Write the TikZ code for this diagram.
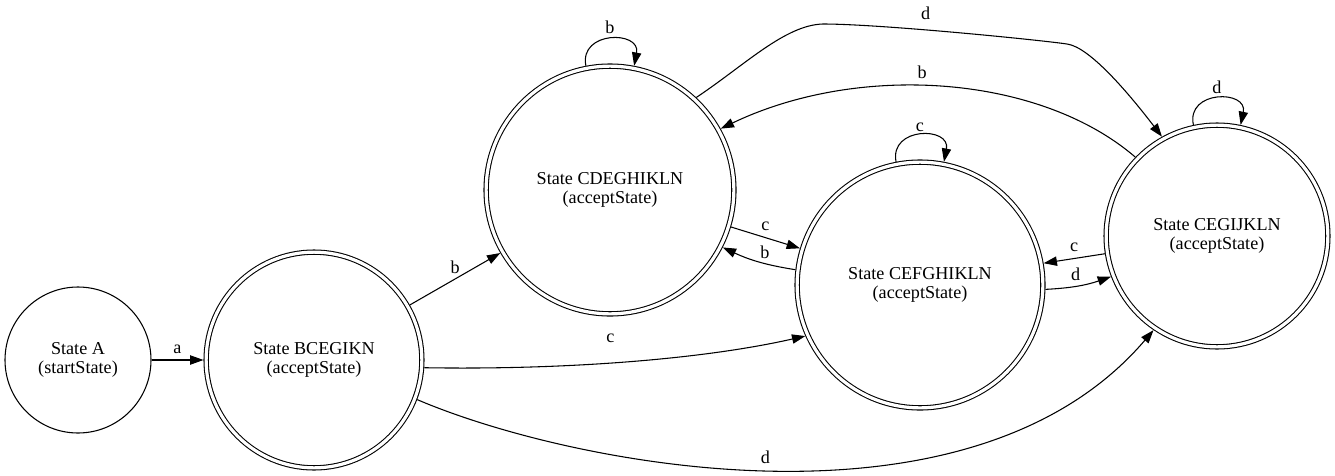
\documentclass[tikz,border=0pt]{standalone}
\usepackage{fontspec}
\setmainfont{Liberation Serif}
\usetikzlibrary{arrows.meta}
\begin{document}
\begin{tikzpicture}[x=0.75pt,y=-0.75pt,line width=0.8pt,
		>={Triangle[length=10pt,width=7pt]},
		every node/.style={font=\fontsize{13.6pt}{14.5pt}\selectfont},
		stnode/.style={draw, circle, align=center, inner sep=0pt},
		accnode/.style={stnode, double, double distance=2.4pt, outer sep=2pt},
		lbl/.style={inner sep=1pt}]
			\useasboundingbox (0,0) rectangle (1335,475);
			\node[stnode, minimum size=109.5pt] (A) at (78,360) {State A\\(startState)};
			\node[accnode, minimum size=161.8pt] (BCEGIKN) at (314,360) {State BCEGIKN\\(acceptState)};
			\node[accnode, minimum size=185.8pt] (CDEGHIKLN) at (610,190) {State CDEGHIKLN\\(acceptState)};
			\node[accnode, minimum size=184.3pt] (CEFGHIKLN) at (920,285) {State CEFGHIKLN\\(acceptState)};
			\node[accnode, minimum size=166.3pt] (CEGIJKLN) at (1217,236) {State CEGIJKLN\\(acceptState)};
			\draw[->] (A) -- node[lbl, above=3.5pt] {a} (BCEGIKN);
			\draw[->] (BCEGIKN) -- node[lbl, above=2.6pt] {b} (CDEGHIKLN);
			\draw[->] (BCEGIKN.-4) .. controls (560,370) and (700,360) .. node[lbl, above=14pt, pos=0.46] {c} (CEFGHIKLN.204);
			\draw[->] (BCEGIKN.-21) .. controls (570,465) and (970,545) .. node[lbl, above=3.3pt, pos=0.49] {d} (CEGIJKLN.236);
			% loops
			\draw[->] (CDEGHIKLN.101) .. controls +(101:27pt) and +(79:27pt) .. node[lbl, above=2.5pt, midway] {b} (CDEGHIKLN.79);
			\draw[->] (CEFGHIKLN.101.5) .. controls +(101:27pt) and +(79:27pt) .. node[lbl, above=1.5pt, midway] {c} (CEFGHIKLN.79.5);
			\draw[->] (CEGIJKLN.102) .. controls +(102:27pt) and +(78:27pt) .. node[lbl, above=1.9pt, midway] {d} (CEGIJKLN.78);
			% upper arcs
			\draw[->] (CDEGHIKLN.47) .. controls (745,65) and (785,25) .. (823,24) .. controls (880,24) and (1040,40) .. node[lbl, above=6pt, pos=0.4] {d} (1067,44) .. controls (1090,47) and (1130,95) .. (CEGIJKLN.119);
			\draw[->] (CEGIJKLN.136) .. controls (1040,75) and (860,62) .. node[lbl, above=4.1pt, pos=0.55] {b} (CDEGHIKLN.29);
			% between neighbours
			\draw[->] (CDEGHIKLN.-17) -- node[lbl, above=4.2pt] {c} (CEFGHIKLN.163);
			\draw[->] (CEFGHIKLN.173.5) to[bend left=8] node[lbl, above=1.9pt, pos=0.4] {b} (CDEGHIKLN.-27);
			\draw[->] (CEGIJKLN.189.5) -- node[lbl, above=3.5pt] {c} (CEFGHIKLN.10);
			\draw[->] (CEFGHIKLN.-2) to[bend right=8] node[lbl, above=3pt, pos=0.45] {d} (CEGIJKLN.201);
		\end{tikzpicture}
\end{document}
